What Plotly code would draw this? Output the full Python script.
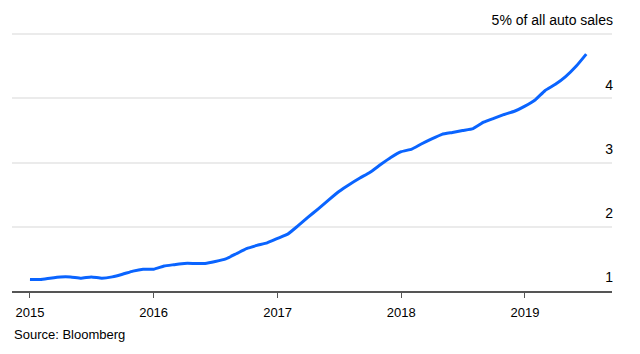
import plotly.graph_objects as go
import pandas as pd

start_month = "2015-01-01"
share_pct = [
    1.18, 1.18, 1.20, 1.22, 1.22, 1.20, 1.22, 1.20, 1.22, 1.26, 1.31, 1.34,
    1.34, 1.39, 1.41, 1.43, 1.43, 1.43, 1.46, 1.50, 1.58, 1.66, 1.71, 1.75,
    1.82, 1.89, 2.01, 2.15, 2.28, 2.42, 2.55, 2.66, 2.76, 2.85, 2.97, 3.08,
    3.17, 3.21, 3.29, 3.37, 3.44, 3.47, 3.50, 3.53, 3.63, 3.69, 3.75, 3.80,
    3.88, 3.98, 4.12, 4.22, 4.34, 4.50, 4.69,
]
dates = pd.date_range(start_month, periods=len(share_pct), freq="MS")

y_tickvals = [1, 2, 3, 4, 5]
y_ticktext = ["1", "2", "3", "4", "5% of all auto sales"]
x_tickvals = ["2015-01-01", "2016-01-01", "2017-01-01", "2018-01-01", "2019-01-01"]
x_ticktext = ["2015", "2016", "2017", "2018", "2019"]
source_text = "Source: Bloomberg"

fig = go.Figure()
fig.add_trace(go.Scatter(
    x=dates, y=share_pct, mode="lines",
    line=dict(color="#0a64ff", width=3, shape="spline", smoothing=0.4),
    hoverinfo="skip", showlegend=False,
))

font_family = "Liberation Sans, Arial, sans-serif"

fig.update_layout(
    width=640, height=354,
    margin=dict(l=12, r=28, t=29, b=63),
    paper_bgcolor="white", plot_bgcolor="white",
    font=dict(family=font_family, size=13, color="#000000"),
    xaxis=dict(
        range=["2014-11-09", "2019-09-15"],
        tickvals=x_tickvals, ticktext=x_ticktext,
        showgrid=False, zeroline=False,
        showline=True, linecolor="#555555", linewidth=2,
        ticks="outside", ticklen=5, tickwidth=1, tickcolor="#555555",
        tickfont=dict(size=13, color="#000000"),
        ticklabelstandoff=3,
        fixedrange=True,
    ),
    yaxis=dict(
        range=[1, 5.05],
        side="right",
        tickvals=y_tickvals, ticktext=y_ticktext,
        ticklabelposition="inside top",
        ticklabeloverflow="allow",
        ticklabelshift=-4,
        ticklabelstandoff=-4,
        showgrid=True, gridcolor="#ebebeb", gridwidth=2,
        zeroline=False, showline=False, ticks="",
        tickfont=dict(size=14, color="#000000"),
        fixedrange=True,
    ),
    annotations=[dict(
        text=source_text, xref="paper", yref="paper",
        x=0, y=-0.168, xanchor="left", yanchor="middle",
        showarrow=False, font=dict(size=13, color="#000000"),
    )],
)

fig.write_html("out.html")
